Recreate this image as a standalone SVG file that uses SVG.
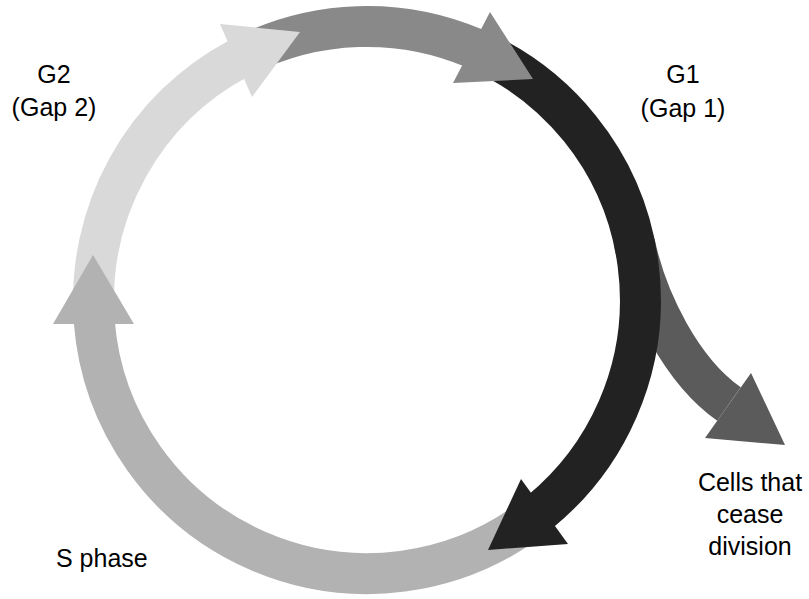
<svg xmlns="http://www.w3.org/2000/svg" width="809" height="599" viewBox="0 0 809 599">
<style>
.arc{fill:none;stroke-width:41;stroke-linecap:butt}
.lbl{font-family:"Liberation Sans",Arial,sans-serif;font-size:25px;fill:#000}
.c1{stroke:#d9d9d9}.f1{fill:#d9d9d9}
.c2{stroke:#898989}.f2{fill:#898989}
.c3{stroke:#222222}.f3{fill:#222222}
.c4{stroke:#b2b2b2}.f4{fill:#b2b2b2}
.c5{stroke:#5b5b5b}.f5{fill:#5b5b5b}
</style>
<rect width="809" height="599" fill="#ffffff"/>
<g id="connectors">
  <path id="branch" class="arc c5" d="M 634.5 243.1 C 647 301.8 682 371 729 404"/>
  <path id="arc-g2" class="arc c1" d="M 94.2 319.1 A 273.5 273.5 0 0 1 238.6 58.5"/>
  <path id="arc-m" class="arc c2" d="M 242.8 56.3 A 273.5 273.5 0 0 1 473.9 48.2"/>
  <path id="arc-g1" class="arc c3" d="M 478.2 50.2 A 273.5 273.5 0 0 1 540.2 511.6"/>
  <path id="arc-s" class="arc c4" d="M 537.3 514 A 273.5 273.5 0 0 1 94.2 321"/>
  <polygon class="f1" points="220,24 300,32 252,97"/>
  <polygon class="f2" points="490,12 533,79 453,83"/>
  <polygon class="f3" points="568,544 488,550 521,479"/>
  <polygon class="f4" points="53,324 93,255 134,324"/>
  <polygon class="f5" points="751,373 785,445 705,438"/>
</g>
<g id="g2-label"><text class="lbl" x="54" y="83" text-anchor="middle">G2</text><text class="lbl" x="54" y="116" text-anchor="middle">(Gap 2)</text></g>
<g id="g1-label"><text class="lbl" x="683" y="83" text-anchor="middle">G1</text><text class="lbl" x="683" y="117" text-anchor="middle">(Gap 1)</text></g>
<g id="s-label"><text class="lbl" x="56" y="567">S phase</text></g>
<g id="cease-label"><text class="lbl" x="750" y="491" text-anchor="middle">Cells that</text><text class="lbl" x="750" y="523" text-anchor="middle">cease</text><text class="lbl" x="750" y="555" text-anchor="middle">division</text></g>
</svg>
